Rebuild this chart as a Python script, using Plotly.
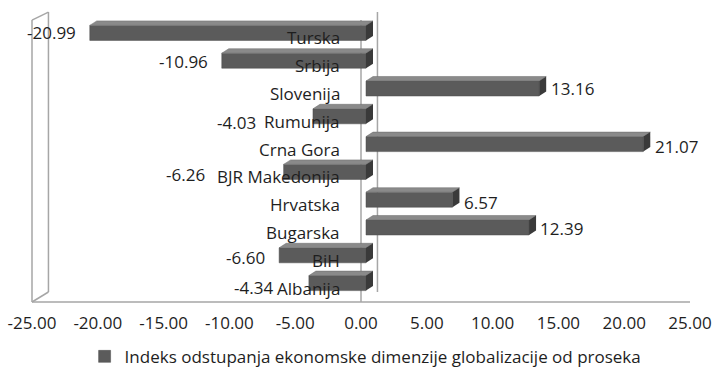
import plotly.graph_objects as go

countries = ["Turska", "Srbija", "Slovenija", "Rumunija", "Crna Gora",
             "BJR Makedonija", "Hrvatska", "Bugarska", "BiH", "Albanija"]
values = [-20.99, -10.96, 13.16, -4.03, 21.07, -6.26, 6.57, 12.39, -6.60, -4.34]
x_ticks = [-25, -20, -15, -10, -5, 0, 5, 10, 15, 20, 25]
series_name = "Indeks odstupanja ekonomske dimenzije globalizacije od proseka"

# label placement tweaks (pixels), as in the original chart
label_dx = [-12, -12, 10, -55, 10, -77, 10, 9, -12, -34]
label_dy = [0, -1, 0, -6, -2, -3, -3, -1, -2, -4]

FONT = "Open Sans"
FS = 17
TXT = "#1e1e1e"
FRONT = "#5b5b5b"
TOP = "#8a8a8a"
SIDE = "#3a3a3a"
WALL = "#a6a6a6"

PX_PER_UNIT = 658 / 50.0
SHIFT = 5 / PX_PER_UNIT        # bars sit slightly behind the front plane
W = 0.54                       # bar thickness (category units)
DX = 7 / PX_PER_UNIT           # 3-D depth, x
DY = 4.5 / 27.8                # 3-D depth, y

idx = list(range(len(countries)))

fig = go.Figure()
# invisible carrier trace for the visible value axis
fig.add_trace(go.Scatter(x=values, y=idx, mode="markers", marker=dict(opacity=0),
                         showlegend=False, hoverinfo="skip"))
fig.add_trace(go.Bar(
    y=idx, x=values, orientation="h", width=W, xaxis="x2",
    marker=dict(color=FRONT, line=dict(color="#4c4c4c", width=0.5)),
    name=series_name, showlegend=True, hovertext=countries, hoverinfo="x+text",
))

shapes = []
WB = 0.025  # back-wall offset in paper units
for (x0, y0, x1, y1) in [(0, -0.018, 0, 0.996), (WB, 0.018, WB, 1.025),
                         (0, -0.018, WB, 0.018), (0, 0.996, WB, 1.025),
                         (0, -0.018, 1.0, -0.018)]:
    shapes.append(dict(type="line", xref="paper", yref="paper", x0=x0, y0=y0,
                       x1=x1, y1=y1, line=dict(color=WALL, width=1.5), layer="below"))
shapes.append(dict(type="line", xref="paper", yref="paper", x0=0.5, x1=0.5, y0=-0.018, y1=0.996,
                   line=dict(color=WALL, width=1.5), layer="below"))
shapes.append(dict(type="line", xref="paper", yref="paper", x0=0.5 + WB, x1=0.5 + WB,
                   y0=0.018, y1=1.025, line=dict(color=WALL, width=1.5), layer="below"))

for i, v in zip(idx, values):
    yt = i - W / 2
    yb = i + W / 2
    lo, hi = min(0, v), max(0, v)
    shapes.append(dict(type="path", xref="x2", yref="y",
                       path=f"M {lo},{yt} L {hi},{yt} L {hi+DX},{yt-DY} L {lo+DX},{yt-DY} Z",
                       fillcolor=TOP, line=dict(color="#6a6a6a", width=0.5), layer="above"))
    shapes.append(dict(type="path", xref="x2", yref="y",
                       path=f"M {hi},{yt} L {hi+DX},{yt-DY} L {hi+DX},{yb-DY} L {hi},{yb} Z",
                       fillcolor=SIDE, line=dict(width=0), layer="above"))

annotations = []
for i, (c, v) in enumerate(zip(countries, values)):
    annotations.append(dict(x=0, y=i, xref="x2", yref="y", text=c, showarrow=False,
                            xanchor="right", yanchor="middle", xshift=-24, yshift=-5,
                            font=dict(family=FONT, size=FS, color=TXT)))
    annotations.append(dict(x=v, y=i, xref="x2", yref="y", text=f"{v:.2f}", showarrow=False,
                            xanchor="left" if v > 0 else "right", yanchor="middle",
                            xshift=label_dx[i], yshift=label_dy[i],
                            font=dict(family=FONT, size=FS, color=TXT)))

fig.update_layout(
    width=712, height=369,
    margin=dict(l=32, r=22, t=19, b=72, autoexpand=False),
    paper_bgcolor="white", plot_bgcolor="white",
    font=dict(family=FONT, size=FS, color=TXT),
    shapes=shapes, annotations=annotations,
    showlegend=True,
    legend=dict(orientation="h", x=0.507, xanchor="center", yref="container",
                y=0.033, yanchor="middle", itemwidth=30,
                font=dict(family=FONT, size=FS, color=TXT)),
    xaxis=dict(range=[-25, 25], tickvals=x_ticks,
               ticktext=[f"{t:.2f}" for t in x_ticks],
               showgrid=False, zeroline=False, showline=False, ticks="",
               ticklabelstandoff=14, automargin=False, fixedrange=True,
               tickfont=dict(family=FONT, size=FS, color=TXT)),
    xaxis2=dict(overlaying="x", range=[-25 - SHIFT, 25 - SHIFT], visible=False),
    yaxis=dict(range=[9.5, -0.5], showticklabels=False, showgrid=False,
               zeroline=False, showline=False),
)

fig.write_html("out.html", config={"displayModeBar": False},
               post_script="document.body.style.margin='0';document.body.style.overflow='hidden';")
